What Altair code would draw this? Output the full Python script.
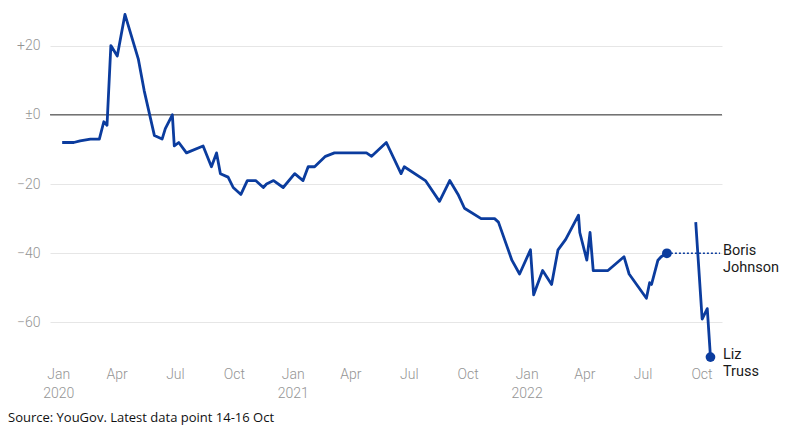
import altair as alt
import pandas as pd

# Boris Johnson net favourability (YouGov)
bj_dates = ["2020-01-07", "2020-01-25", "2020-02-04", "2020-02-20", "2020-03-05", "2020-03-12",
            "2020-03-17", "2020-03-23", "2020-04-02", "2020-04-14", "2020-05-05", "2020-05-14",
            "2020-05-30", "2020-06-11", "2020-06-16", "2020-06-27", "2020-06-30", "2020-07-07",
            "2020-07-19", "2020-08-14", "2020-08-27", "2020-09-04", "2020-09-10", "2020-09-22",
            "2020-09-30", "2020-10-12", "2020-10-22", "2020-11-04", "2020-11-16", "2020-11-21",
            "2020-12-02", "2020-12-17", "2021-01-04", "2021-01-17", "2021-01-25", "2021-02-04",
            "2021-02-21", "2021-03-07", "2021-04-26", "2021-05-04", "2021-05-27", "2021-06-19",
            "2021-06-24", "2021-07-27", "2021-08-18", "2021-09-03", "2021-09-16", "2021-09-26",
            "2021-10-22", "2021-11-12", "2021-11-18", "2021-12-09", "2021-12-21", "2022-01-07",
            "2022-01-12", "2022-01-26", "2022-02-09", "2022-02-19", "2022-03-03", "2022-03-23",
            "2022-03-25", "2022-04-05", "2022-04-10", "2022-04-15", "2022-05-08", "2022-06-02",
            "2022-06-10", "2022-07-07", "2022-07-12", "2022-07-15", "2022-07-25", "2022-07-30",
            "2022-08-08"]
bj_values = [-8, -8, -7.5, -7, -7, -2,
             -3, 20, 17, 29, 16, 7,
             -6, -7, -4, 0, -9, -8,
             -11, -9, -15, -11, -17, -18,
             -21, -23, -19, -19, -21, -20,
             -19, -21, -17, -19, -15, -15,
             -12, -11, -11, -12, -8, -17,
             -15, -19, -25, -19, -23, -27,
             -30, -30, -31, -42, -46, -39,
             -52, -45, -49, -39, -36, -29,
             -34, -42, -34, -45, -45, -41,
             -46, -53, -48.5, -49, -42, -41,
             -40]

# Liz Truss net favourability
lt_dates = ["2022-09-22", "2022-10-02", "2022-10-10", "2022-10-15"]
lt_values = [-31, -59, -56, -70]

# Leader end labels
label_names = ["Boris\nJohnson", "Liz\nTruss"]
label_values = [-40, -70]
label_dates = ["2022-08-08", "2022-10-15"]

# Dotted continuation of Boris Johnson's last value
dot_dates = ["2022-08-08", "2022-10-30"]
dot_values = [-40, -40]

y_ticks = [-60, -40, -20, 0, 20]
x_ticks = [(y, m) for y in (2020, 2021, 2022) for m in (1, 4, 7, 10)]

BLUE = "#0b3c9e"
FONT = "Roboto"

df = pd.DataFrame({
    "date": bj_dates + lt_dates,
    "value": bj_values + lt_values,
    "leader": ["Boris Johnson"] * len(bj_dates) + ["Liz Truss"] * len(lt_dates),
})
ends = pd.DataFrame({"date": label_dates, "value": label_values, "name": label_names})
dotted = pd.DataFrame({"date": dot_dates, "value": dot_values})
zero = pd.DataFrame({"value": [0]})
source = pd.DataFrame({"t": ["Source: YouGov. Latest data point 14-16 Oct"]})

x_scale = alt.Scale(domain=[alt.DateTime(year=2019, month=12, date=19),
                            alt.DateTime(year=2022, month=11, date=2)])
y_scale = alt.Scale(domain=[-72, 30], nice=False, zero=False)

x_axis = alt.Axis(
    values=[alt.DateTime(year=y, month=m, date=1) for y, m in x_ticks],
    labelExpr="month(datum.value) == 0 ? [timeFormat(datum.value, '%b'), timeFormat(datum.value, '%Y')] : timeFormat(datum.value, '%b')",
    title=None, grid=False, ticks=False, domain=False,
    labelFont=FONT, labelFontSize=14, labelFontWeight=300, labelColor="#949494",
    labelPadding=3, labelLineHeight=19, labelBaseline="top",
)
y_axis = alt.Axis(
    values=y_ticks,
    labelExpr="datum.value > 0 ? '+' + datum.value : (datum.value == 0 ? '±0' : '−' + abs(datum.value))",
    title=None, grid=True, gridColor="#e6e6e6", gridWidth=1, ticks=False, domain=False,
    labelFont=FONT, labelFontSize=14, labelFontWeight=300, labelColor="#949494",
    labelPadding=10,
)

base_x = alt.X("date:T", scale=x_scale, axis=x_axis)
base_y = alt.Y("value:Q", scale=y_scale, axis=y_axis)

zero_rule = alt.Chart(zero).mark_rule(color="#333333", strokeWidth=1).encode(
    y=alt.Y("value:Q", scale=y_scale, axis=y_axis)
)

lines = alt.Chart(df).mark_line(color=BLUE, strokeWidth=2.8, strokeJoin="round").encode(
    x=base_x, y=base_y, detail="leader:N"
)

dots_line = alt.Chart(dotted).mark_line(color=BLUE, strokeWidth=1.3, strokeDash=[2, 2]).encode(
    x="date:T", y="value:Q"
)

end_points = alt.Chart(ends).mark_circle(color=BLUE, size=95, opacity=1).encode(
    x="date:T", y="value:Q"
)

end_labels = alt.Chart(ends).mark_text(
    align="left", baseline="top", dy=-9, lineBreak="\n", lineHeight=17,
    font=FONT, fontSize=14.5, color="#1a1a1a"
).encode(
    x=alt.value(673), y="value:Q", text="name:N"
)

source_text = alt.Chart(source).mark_text(
    align="left", baseline="alphabetic", font="Open Sans", fontSize=13, color="#111111"
).encode(
    x=alt.value(-42), y=alt.value(411), text="t:N"
)

chart = alt.layer(zero_rule, lines, dots_line, end_points, end_labels, source_text).properties(
    width=672, height=353,
    autosize=alt.AutoSizeParams(type="none"),
    padding={"left": 42, "top": 3, "right": 59, "bottom": 63},
    background="white",
).configure_view(strokeWidth=0)

chart.save("out.html", embed_options={"renderer": "svg", "actions": False})
